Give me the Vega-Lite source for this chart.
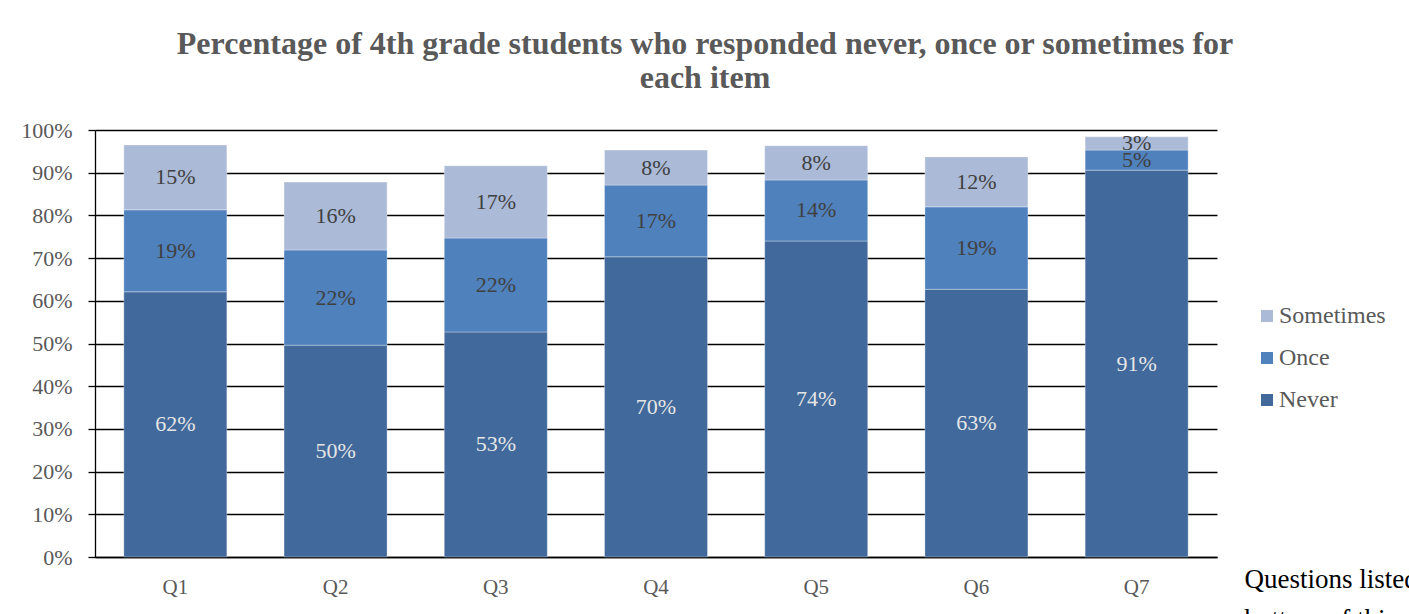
{
  "$schema": "https://vega.github.io/schema/vega-lite/v6.json",
  "autosize": {"type": "none"},
  "padding": {"left": 95, "top": 130, "right": 192, "bottom": 57},
  "width": 1122,
  "height": 427,
  "background": "white",
  "title": {
    "text": ["Percentage of 4th grade students who responded never, once or sometimes for", "each item"],
    "font": "Liberation Serif",
    "fontSize": 32,
    "fontWeight": "bold",
    "color": "#595959",
    "anchor": "middle",
    "dx": 49,
    "lineHeight": 34,
    "offset": 24
  },
  "data": {
    "values": [
      {"q": "Q1", "category": "Never", "v": 0.621},
      {"q": "Q1", "category": "Once", "v": 0.192},
      {"q": "Q1", "category": "Sometimes", "v": 0.152},
      {"q": "Q2", "category": "Never", "v": 0.496},
      {"q": "Q2", "category": "Once", "v": 0.223},
      {"q": "Q2", "category": "Sometimes", "v": 0.159},
      {"q": "Q3", "category": "Never", "v": 0.527},
      {"q": "Q3", "category": "Once", "v": 0.220},
      {"q": "Q3", "category": "Sometimes", "v": 0.169},
      {"q": "Q4", "category": "Never", "v": 0.703},
      {"q": "Q4", "category": "Once", "v": 0.168},
      {"q": "Q4", "category": "Sometimes", "v": 0.082},
      {"q": "Q5", "category": "Never", "v": 0.740},
      {"q": "Q5", "category": "Once", "v": 0.143},
      {"q": "Q5", "category": "Sometimes", "v": 0.080},
      {"q": "Q6", "category": "Never", "v": 0.627},
      {"q": "Q6", "category": "Once", "v": 0.193},
      {"q": "Q6", "category": "Sometimes", "v": 0.117},
      {"q": "Q7", "category": "Never", "v": 0.906},
      {"q": "Q7", "category": "Once", "v": 0.047},
      {"q": "Q7", "category": "Sometimes", "v": 0.031}
    ]
  },
  "transform": [
    {"stack": "v", "groupby": ["q"], "sort": [{"field": "category", "order": "ascending"}], "as": ["v0", "v1"]}
  ],
  "encoding": {
    "x": {
      "field": "q",
      "type": "nominal",
      "scale": {"paddingInner": 0.357, "paddingOuter": 0.18},
      "axis": {
        "labelAngle": 0,
        "ticks": false,
        "domain": true,
        "domainColor": "#000000",
        "domainWidth": 1.3,
        "labelPadding": 19,
        "labelFont": "Liberation Serif",
        "labelFontSize": 21,
        "labelColor": "#595959",
        "title": ["Questions listed at the", "bottom of this page"],
        "titleX": 1149,
        "titleY": 30,
        "titleAlign": "left",
        "titleAnchor": "start",
        "titleBaseline": "alphabetic",
        "titleFont": "Liberation Serif",
        "titleFontSize": 27,
        "titleFontWeight": "normal",
        "titleColor": "#000000",
        "titleLineHeight": 40
      }
    }
  },
  "layer": [
    {
      "mark": {"type": "bar", "stroke": "#ffffff", "strokeWidth": 0.8, "strokeOpacity": 0.4},
      "encoding": {
        "y": {
          "field": "v0",
          "type": "quantitative",
          "scale": {"domain": [0, 1], "nice": false},
          "axis": {
            "title": null,
            "values": [0, 0.1, 0.2, 0.3, 0.4, 0.5, 0.6, 0.7, 0.8, 0.9, 1],
            "format": ".0%",
            "grid": true,
            "gridColor": "#000000",
            "gridWidth": 1.3,
            "domain": true,
            "domainColor": "#000000",
            "domainWidth": 1.3,
            "ticks": true,
            "tickColor": "#000000",
            "tickWidth": 1.3,
            "tickSize": 7,
            "labelPadding": 16,
            "labelFont": "Liberation Serif",
            "labelFontSize": 22,
            "labelColor": "#595959"
          }
        },
        "y2": {"field": "v1"},
        "color": {
          "field": "category",
          "type": "nominal",
          "scale": {"domain": ["Sometimes", "Once", "Never"], "range": ["#aabad7", "#4f81bd", "#41699b"]},
          "legend": {
            "title": null,
            "orient": "none",
            "legendX": 1160,
            "legendY": 174,
            "symbolType": "square",
            "symbolSize": 144,
            "symbolStrokeWidth": 0,
            "labelFont": "Liberation Serif",
            "labelFontSize": 24,
            "labelColor": "#595959",
            "rowPadding": 18,
            "labelOffset": 0
          }
        }
      }
    },
    {
      "transform": [
        {"fold": ["v0", "v1"], "as": ["k", "pos"]},
        {"aggregate": [{"op": "mean", "field": "pos", "as": "mid"}], "groupby": ["q", "category", "v"]}
      ],
      "mark": {"type": "text", "font": "Liberation Serif", "fontSize": 22, "baseline": "middle"},
      "encoding": {
        "y": {"field": "mid", "type": "quantitative", "axis": {"title": null}},
        "text": {"field": "v", "type": "quantitative", "format": ".0%"},
        "color": {
          "condition": {"test": "datum.category === 'Never'", "value": "#e6e6e6"},
          "value": "#404040"
        }
      }
    }
  ],
  "config": {
    "view": {"stroke": null}
  }
}
